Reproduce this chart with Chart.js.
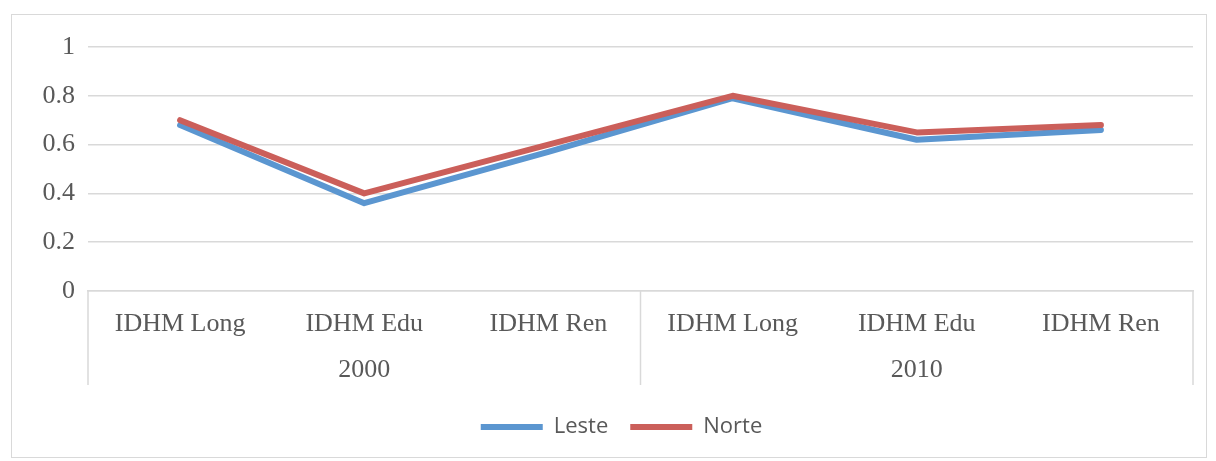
<!DOCTYPE html>
<html>
<head>
<meta charset="utf-8">
<script src="https://cdn.jsdelivr.net/npm/chart.js@4/dist/chart.umd.min.js"></script>
<style>
  html, body { margin: 0; padding: 0; background: #ffffff; }
  #wrap { position: relative; width: 1216px; height: 461px; }
</style>
</head>
<body>
<div id="wrap"><canvas id="chart" width="1216" height="461"></canvas></div>
<script>
// Indicator categories, grouped by census year
const categories = ['IDHM Long', 'IDHM Edu', 'IDHM Ren', 'IDHM Long', 'IDHM Edu', 'IDHM Ren'];
const years = ['2000', '2010'];
const perYear = 3;

// Regional index values
const leste = [0.68, 0.36, 0.57, 0.79, 0.62, 0.66];
const norte = [0.70, 0.40, 0.60, 0.80, 0.65, 0.68];

// Y axis ticks
const yTicks = [0, 0.2, 0.4, 0.6, 0.8, 1];

// Year labels sit under the middle indicator of each group
const yearLabels = categories.map((_, i) =>
  (i % perYear === Math.floor(perYear / 2)) ? years[Math.floor(i / perYear)] : ''
);

const textColor = '#595959';
const lineGray = '#d9d9d9';
const serif = "'Liberation Serif', 'Times New Roman', serif";

// White background plus the thin frame around the whole chart
const framePlugin = {
  id: 'frame',
  beforeDraw(chart) {
    const ctx = chart.ctx;
    ctx.save();
    ctx.fillStyle = '#ffffff';
    ctx.fillRect(0, 0, chart.width, chart.height);
    ctx.strokeStyle = lineGray;
    ctx.lineWidth = 1;
    ctx.strokeRect(11.5, 14.5, 1195, 443);
    ctx.restore();
  }
};

// Centre the legend under the framed area rather than the padded canvas
const legendShift = {
  id: 'legendShift',
  afterLayout(chart) {
    if (chart.legend) chart.legend.left += 50;
  }
};

// Vertical separators between the year groups on the category axis
const groupDividers = {
  id: 'groupDividers',
  afterDraw(chart) {
    const x = chart.scales.x;
    const half = (x.getPixelForValue(1) - x.getPixelForValue(0)) / 2;
    const top = chart.chartArea.bottom;
    const bottom = top + 94;
    const ctx = chart.ctx;
    ctx.save();
    ctx.strokeStyle = lineGray;
    ctx.lineWidth = 1.5;
    for (let g = 0; g <= years.length; g++) {
      let px;
      if (g < years.length) px = x.getPixelForValue(g * perYear) - half;
      else px = x.getPixelForValue(categories.length - 1) + half;
      ctx.beginPath();
      ctx.moveTo(px, top);
      ctx.lineTo(px, bottom);
      ctx.stroke();
    }
    ctx.restore();
  }
};

new Chart(document.getElementById('chart'), {
  type: 'line',
  data: {
    labels: categories,
    datasets: [
      {
        label: 'Leste',
        data: leste,
        borderColor: '#5b96d0',
        backgroundColor: '#5b96d0',
        borderWidth: 6,
        borderCapStyle: 'round',
        borderJoinStyle: 'round',
        pointRadius: 0,
        pointHoverRadius: 0,
        tension: 0,
        order: 1
      },
      {
        label: 'Norte',
        data: norte,
        borderColor: '#cb5f5a',
        backgroundColor: '#cb5f5a',
        borderWidth: 6,
        borderCapStyle: 'round',
        borderJoinStyle: 'round',
        pointRadius: 0,
        pointHoverRadius: 0,
        tension: 0,
        order: 0
      }
    ]
  },
  options: {
    responsive: false,
    animation: false,
    events: [],
    layout: { padding: { left: 0, right: 23, top: 47, bottom: 13 } },
    plugins: {
      tooltip: { enabled: false },
      legend: {
        position: 'bottom',
        labels: {
          usePointStyle: true,
          pointStyle: 'line',
          pointStyleWidth: 62,
          padding: 22,
          color: textColor,
          sort: (a, b) => a.datasetIndex - b.datasetIndex,
          font: { family: "'Open Sans', 'DejaVu Sans Condensed', sans-serif", size: 22 }
        }
      }
    },
    scales: {
      y: {
        min: 0,
        max: 1,
        afterFit(scale) { scale.width = 88; },
        afterBuildTicks(scale) { scale.ticks = yTicks.map(v => ({ value: v })); },
        ticks: {
          padding: 13,
          color: textColor,
          callback: (v) => String(v),
          font: { family: serif, size: 26 }
        },
        grid: { color: lineGray, lineWidth: 1.5, drawTicks: false },
        border: { display: false }
      },
      x: {
        type: 'category',
        offset: true,
        afterFit(scale) { scale.height = 50; },
        ticks: {
          padding: 18,
          autoSkip: false,
          maxRotation: 0,
          color: textColor,
          font: { family: serif, size: 26 }
        },
        grid: { display: false, drawTicks: false },
        border: { display: true, color: lineGray, width: 1.5 }
      },
      x2: {
        type: 'category',
        position: 'bottom',
        weight: 1,
        labels: yearLabels,
        offset: true,
        afterFit(scale) { scale.height = 53; },
        ticks: {
          padding: 14,
          autoSkip: false,
          maxRotation: 0,
          color: textColor,
          font: { family: serif, size: 26 }
        },
        grid: { display: false, drawTicks: false },
        border: { display: false }
      }
    }
  },
  plugins: [framePlugin, legendShift, groupDividers]
});
</script>
</body>
</html>
